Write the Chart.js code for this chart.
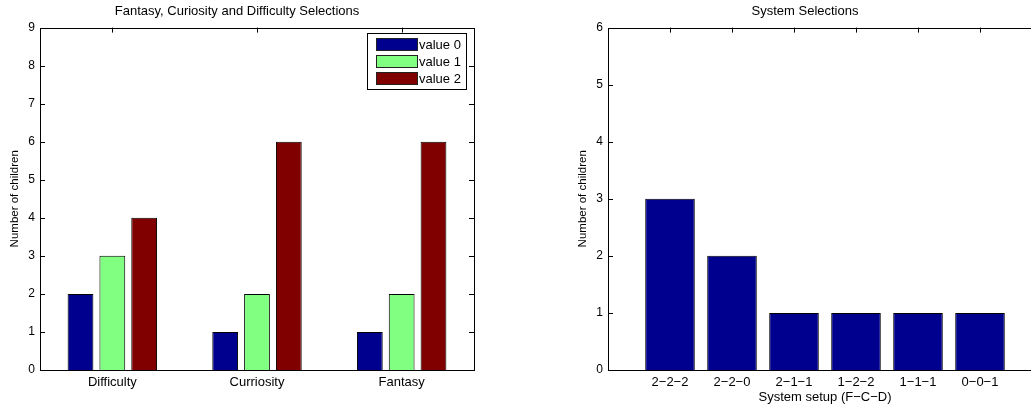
<!DOCTYPE html>
<html>
<head>
<meta charset="utf-8">
<script src="https://cdn.jsdelivr.net/npm/chart.js@4.4.1/dist/chart.umd.min.js"></script>
<style>
body { margin: 0; width: 1031px; height: 407px; overflow: hidden; background: #fff; position: relative; }
.box { position: absolute; top: 0; width: 500px; height: 407px; }
</style>
</head>
<body>
<div class="box" style="left:0"><canvas id="left"></canvas></div>
<div class="box" style="left:568px"><canvas id="right"></canvas></div>
<script>
// left plot data
const aspects = ["Difficulty", "Curriosity", "Fantasy"];
const value0 = [2, 1, 1];
const value1 = [3, 2, 2];
const value2 = [4, 6, 6];
const seriesNames = ["value 0", "value 1", "value 2"];
const seriesColors = ["#00008f", "#80ff80", "#800000"];

// right plot data
const setups = ["2−2−2", "2−2−0", "2−1−1", "1−2−2", "1−1−1", "0−0−1"];
const setupCounts = [3, 2, 1, 1, 1, 1];

Chart.defaults.font.family = "'Liberation Sans', Arial, sans-serif";
Chart.defaults.color = "#000";

// matlab style box with inward ticks
const frame = {
    id: "frame",
    afterDatasetsDraw(chart) {
        const { ctx, chartArea: a, scales } = chart;
        ctx.save();
        ctx.strokeStyle = "#000";
        ctx.lineWidth = 1;
        ctx.beginPath();
        scales.y.ticks.forEach(t => {
            let y = Math.round(scales.y.getPixelForValue(t.value)) + 0.5;
            ctx.moveTo(a.left, y); ctx.lineTo(a.left + 5, y);
            ctx.moveTo(a.right, y); ctx.lineTo(a.right - 5, y);
        });
        scales.x.ticks.forEach((t, i) => {
            if (chart.data.labels[i] === "") return;
            let x = Math.round(scales.x.getPixelForTick(i)) + 0.5;
            ctx.moveTo(x, a.top); ctx.lineTo(x, a.top + 5);
        });
        ctx.stroke();
        ctx.strokeRect(Math.round(a.left) + 0.5, Math.round(a.top) + 0.5,
            Math.round(a.right - a.left), Math.round(a.bottom - a.top));
        ctx.restore();
    }
};

// legend box in the top right corner
const boxLegend = {
    id: "boxLegend",
    afterDraw(chart, args, opts) {
        if (!opts.show) return;
        const ctx = chart.ctx;
        const x = opts.x, y = opts.y;
        ctx.save();
        ctx.fillStyle = "#fff";
        ctx.fillRect(x, y, opts.w, opts.h);
        ctx.strokeStyle = "#000";
        ctx.lineWidth = 1;
        ctx.strokeRect(x + 0.5, y + 0.5, opts.w, opts.h);
        ctx.font = "13px 'Liberation Sans', Arial, sans-serif";
        ctx.textBaseline = "middle";
        chart.data.datasets.forEach((ds, i) => {
            let ry = y + 5 + i * 17;
            ctx.fillStyle = ds.backgroundColor;
            ctx.fillRect(x + 9, ry, 41, 12);
            ctx.strokeStyle = "#222";
            ctx.strokeRect(x + 9.5, ry + 0.5, 41, 12);
            ctx.fillStyle = "#000";
            ctx.fillText(ds.label, x + 52, ry + 7);
        });
        ctx.restore();
    }
};

function yAxis(max) {
    return {
        min: 0, max: max,
        ticks: { stepSize: 1, font: { size: 12 }, padding: 5 },
        grid: { display: false, drawTicks: false },
        border: { display: false },
        title: { display: true, text: "Number of children", font: { size: 11.5 }, padding: { top: 8, bottom: 0 } },
        afterFit(s) { s.width = 40; }
    };
}

function titleOpts(text) {
    return {
        display: true, text: text, color: "#000",
        font: { size: 13, weight: "normal" },
        padding: { top: 4, bottom: 8 }
    };
}

new Chart(document.getElementById("left"), {
    type: "bar",
    data: {
        labels: aspects,
        datasets: [value0, value1, value2].map((vals, i) => ({
            label: seriesNames[i],
            data: vals,
            backgroundColor: seriesColors[i],
            borderColor: "#000",
            borderWidth: 1,
            barPercentage: 0.81,
            categoryPercentage: 0.66
        }))
    },
    options: {
        responsive: true,
        maintainAspectRatio: false,
        animation: false,
        layout: { padding: { left: 0, right: 26, top: 0, bottom: 0 } },
        plugins: {
            legend: { display: false },
            tooltip: { enabled: false },
            title: titleOpts("Fantasy, Curiosity and Difficulty Selections"),
            boxLegend: { show: true, x: 367, y: 33, w: 99, h: 56 }
        },
        scales: {
            x: {
                ticks: { font: { size: 13 }, padding: 5 },
                grid: { display: false, drawTicks: false },
                border: { display: false },
                afterFit(s) { s.height = 37; }
            },
            y: yAxis(9)
        }
    },
    plugins: [frame, boxLegend]
});

new Chart(document.getElementById("right"), {
    type: "bar",
    data: {
        labels: ["", ...setups, ""],
        datasets: [{
            label: "count",
            data: [null, ...setupCounts, null],
            backgroundColor: seriesColors[0],
            borderColor: "#000",
            borderWidth: 1,
            barPercentage: 0.8,
            categoryPercentage: 1
        }]
    },
    options: {
        responsive: true,
        maintainAspectRatio: false,
        animation: false,
        layout: { padding: { left: 0, right: 26, top: 0, bottom: 0 } },
        plugins: {
            legend: { display: false },
            tooltip: { enabled: false },
            title: titleOpts("System Selections"),
            boxLegend: { show: false }
        },
        scales: {
            x: {
                offset: false,
                ticks: { font: { size: 13 }, padding: 5, autoSkip: false, maxRotation: 0 },
                grid: { display: false, drawTicks: false },
                border: { display: false },
                title: { display: true, text: "System setup (F−C−D)", font: { size: 13 }, padding: { top: 0, bottom: 2 } },
                afterFit(s) { s.height = 37; }
            },
            y: yAxis(6)
        }
    },
    plugins: [frame, boxLegend]
});
</script>
</body>
</html>
